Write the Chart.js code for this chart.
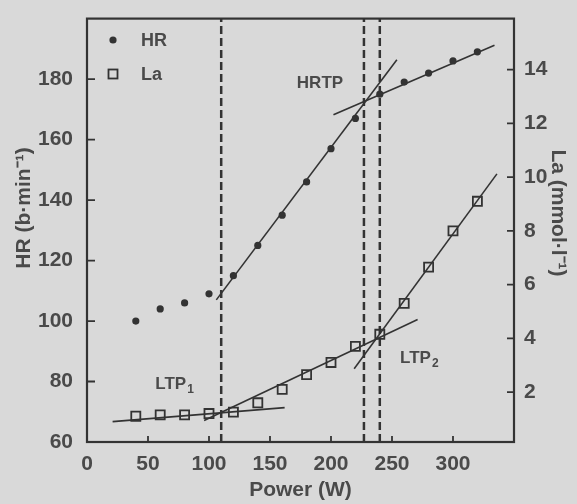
<!DOCTYPE html>
<html>
<head>
<meta charset="utf-8">
<script src="https://cdn.jsdelivr.net/npm/chart.js@4.4.1/dist/chart.umd.min.js"></script>
<style>
  html, body { margin: 0; padding: 0; background: #d9d9d9; }
  canvas { display: block; }
</style>
</head>
<body>
<canvas id="chart" width="577" height="504"></canvas>
<script>
// --- Data ---
const power = [40, 60, 80, 100, 120, 140, 160, 180, 200, 220, 240, 260, 280, 300, 320];
const heartRate = [100, 104, 106, 109, 115, 125, 135, 146, 157, 167, 175, 179, 182, 186, 189];
const lactate = [1.1, 1.15, 1.15, 1.2, 1.25, 1.6, 2.1, 2.65, 3.1, 3.7, 4.15, 5.3, 6.65, 8.0, 9.1];

// regression segments (end points, power in W)
const hrSteepX = [106, 254];
const hrSteepY = [107, 186.4];
const hrFlatX = [202, 334];
const hrFlatY = [168.2, 191.2];
const laBaseX = [21, 162];
const laBaseY = [0.9, 1.42];
const laMidX = [96, 271];
const laMidY = [0.94, 4.7];
const laSteepX = [219, 336];
const laSteepY = [2.87, 10.12];

// thresholds: LTP1, HRTP, LTP2
const thresholds = [110, 227, 240];

// axis ticks
const xTicks = [0, 50, 100, 150, 200, 250, 300];
const hrTicks = [60, 80, 100, 120, 140, 160, 180];
const laTicks = [2, 4, 6, 8, 10, 12, 14];

const INK = "#333";
const TEXT = "#4a4a4a";
const FONT = "'Liberation Sans', Arial, sans-serif";

function toPoints(xs, ys) {
  return xs.map((x, i) => ({ x: x, y: ys[i] }));
}

function fitLine(xs, ys, axis) {
  return {
    data: toPoints(xs, ys),
    yAxisID: axis,
    showLine: true,
    borderColor: INK,
    borderWidth: 1.6,
    pointRadius: 0,
    order: 2,
  };
}

const datasets = [];
thresholds.forEach((t) => {
  datasets.push({
    data: [{ x: t, y: 60 }, { x: t, y: 200 }],
    yAxisID: "y",
    showLine: true,
    borderColor: INK,
    borderWidth: 2.5,
    borderDash: [8, 4],
    pointRadius: 0,
    order: 3,
  });
});
datasets.push(fitLine(hrSteepX, hrSteepY, "y"));
datasets.push(fitLine(hrFlatX, hrFlatY, "y"));
datasets.push(fitLine(laBaseX, laBaseY, "y1"));
datasets.push(fitLine(laMidX, laMidY, "y1"));
datasets.push(fitLine(laSteepX, laSteepY, "y1"));
datasets.push({
  label: "HR",
  data: toPoints(power, heartRate),
  yAxisID: "y",
  pointStyle: "circle",
  pointRadius: 3.6,
  backgroundColor: INK,
  borderColor: INK,
  borderWidth: 0,
  order: 1,
});
datasets.push({
  label: "La",
  data: toPoints(power, lactate),
  yAxisID: "y1",
  pointStyle: "rect",
  pointRadius: 6.4,
  backgroundColor: "rgba(0,0,0,0)",
  borderColor: INK,
  borderWidth: 1.8,
  order: 1,
});

function setTicks(values) {
  return (scale) => {
    scale.ticks = values.map((v) => ({ value: v }));
  };
}

const tickFont = { family: FONT, size: 21, weight: "bold" };
const titleFont = { family: FONT, size: 21, weight: "bold" };

// frame, inward tick marks, legend, y titles and threshold labels
const decorations = {
  id: "decorations",
  afterDatasetsDraw(chart) {
    const { ctx, chartArea: a, scales } = chart;
    ctx.save();
    ctx.strokeStyle = INK;
    ctx.lineWidth = 2.2;
    ctx.strokeRect(a.left, a.top, a.right - a.left, a.bottom - a.top);

    ctx.lineWidth = 1.8;
    ctx.beginPath();
    xTicks.forEach((v) => {
      const px = scales.x.getPixelForValue(v);
      ctx.moveTo(px, a.bottom);
      ctx.lineTo(px, a.bottom - 6);
    });
    hrTicks.forEach((v) => {
      const py = scales.y.getPixelForValue(v);
      ctx.moveTo(a.left, py);
      ctx.lineTo(a.left + 8, py);
    });
    laTicks.forEach((v) => {
      const py = scales.y1.getPixelForValue(v);
      ctx.moveTo(a.right, py);
      ctx.lineTo(a.right - 7, py);
    });
    ctx.stroke();

    // legend
    ctx.fillStyle = INK;
    ctx.beginPath();
    ctx.arc(113, 40, 3.6, 0, Math.PI * 2);
    ctx.fill();
    ctx.lineWidth = 1.8;
    ctx.strokeRect(108.5, 69.5, 9, 9);
    ctx.fillStyle = TEXT;
    ctx.font = "bold 18px " + FONT;
    ctx.textBaseline = "middle";
    ctx.textAlign = "left";
    ctx.fillText("HR", 141, 41);
    ctx.fillText("La", 141, 75);

    // threshold labels
    ctx.font = "bold 17px " + FONT;
    ctx.fillText("HRTP", scales.x.getPixelForValue(172), scales.y.getPixelForValue(178.6));
    const sub = (text, s, x, y) => {
      ctx.font = "bold 17px " + FONT;
      ctx.fillText(text, x, y);
      const w = ctx.measureText(text).width;
      ctx.font = "bold 12px " + FONT;
      ctx.fillText(s, x + w + 1, y + 5);
    };
    sub("LTP", "1", scales.x.getPixelForValue(56), scales.y.getPixelForValue(79.1));
    sub("LTP", "2", scales.x.getPixelForValue(256.6), scales.y1.getPixelForValue(3.24));

    // rotated axis titles
    ctx.font = "bold 21px " + FONT;
    ctx.textAlign = "center";
    ctx.save();
    ctx.translate(24, 208);
    ctx.rotate(-Math.PI / 2);
    ctx.fillText("HR (b·min⁻¹)", 0, 0);
    ctx.restore();
    ctx.save();
    ctx.translate(558, 213);
    ctx.rotate(Math.PI / 2);
    ctx.fillText("La (mmol·l⁻¹)", 0, 0);
    ctx.restore();
    ctx.restore();
  },
};

new Chart(document.getElementById("chart"), {
  type: "scatter",
  data: { datasets: datasets },
  plugins: [decorations],
  options: {
    responsive: false,
    animation: false,
    devicePixelRatio: 1,
    layout: { padding: { left: 12, right: 5, top: 10, bottom: 1 } },
    plugins: { legend: { display: false }, tooltip: { enabled: false } },
    scales: {
      x: {
        type: "linear",
        min: 0,
        max: 350,
        afterBuildTicks: setTicks(xTicks),
        afterFit: (s) => { s.height = 61; },
        grid: { display: false },
        border: { display: false },
        ticks: { font: tickFont, color: TEXT, padding: 2, maxRotation: 0 },
        title: { display: true, text: "Power (W)", font: titleFont, color: TEXT, padding: 0 },
      },
      y: {
        type: "linear",
        position: "left",
        min: 60,
        max: 200,
        afterBuildTicks: setTicks(hrTicks),
        afterFit: (s) => { s.width = 75; },
        grid: { display: false },
        border: { display: false },
        ticks: { font: tickFont, color: TEXT, padding: 6 },
      },
      y1: {
        type: "linear",
        position: "right",
        min: 0.14,
        max: 15.9,
        afterBuildTicks: setTicks(laTicks),
        afterFit: (s) => { s.width = 58; },
        grid: { display: false },
        border: { display: false },
        ticks: { font: tickFont, color: TEXT, padding: 2 },
      },
    },
  },
});
</script>
</body>
</html>
